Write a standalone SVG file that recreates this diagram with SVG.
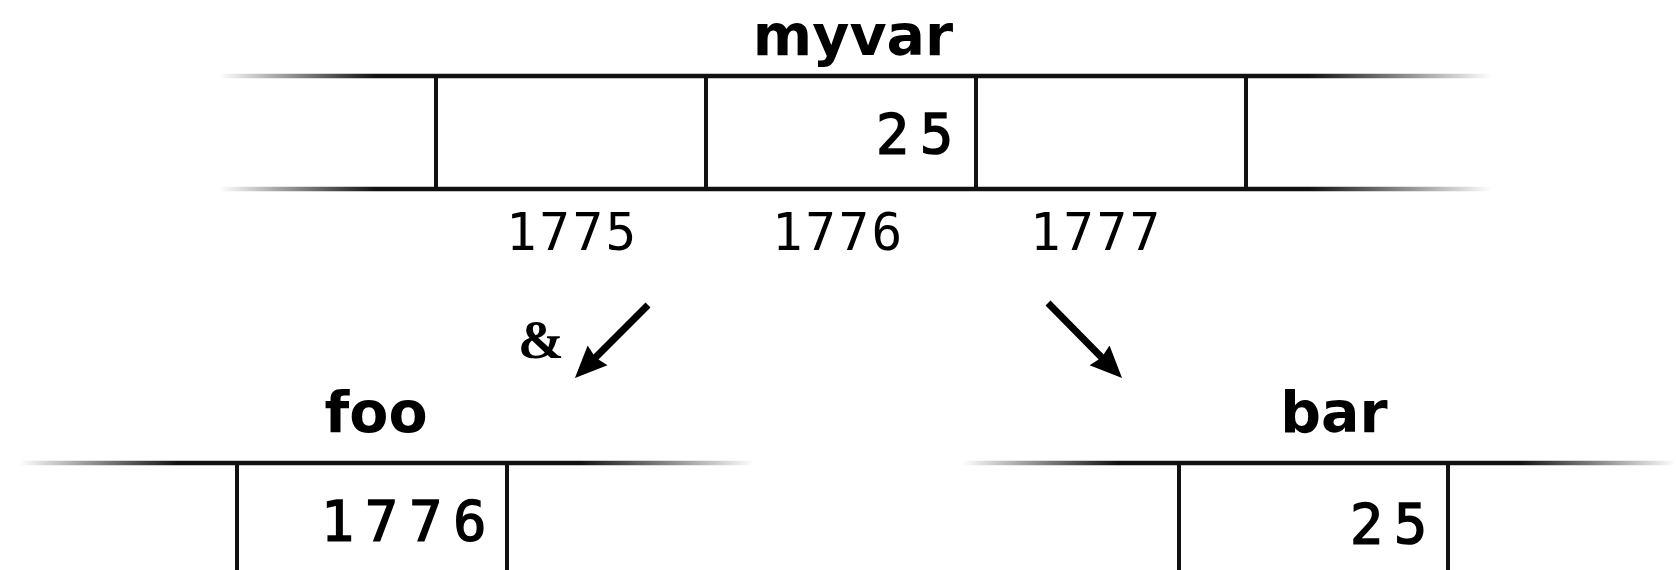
<svg xmlns="http://www.w3.org/2000/svg" width="1676" height="570" viewBox="0 0 1676 570">
<style>
.bg{fill:#fff}
.hl{stroke-width:4.5;fill:none}
.vl{stroke:#111;stroke-width:4;fill:none}
.name{font-family:"DejaVu Sans",sans-serif;font-weight:bold;font-size:57px;fill:#000;text-anchor:middle}
.val{font-family:"DejaVu Sans Mono",monospace;font-size:55px;letter-spacing:11px;fill:#000;stroke:#000;stroke-width:1.6}
.addr{font-family:"DejaVu Sans Mono",monospace;font-size:51px;letter-spacing:2.5px;fill:#000}
.amp{font-family:"Liberation Serif",serif;font-weight:bold;font-size:55px;fill:#000}
.arrow{stroke:#000;stroke-width:7;fill:none;marker-end:url(#head)}
</style>
<defs>
<linearGradient id="gTop" gradientUnits="userSpaceOnUse" x1="219" y1="0" x2="1492" y2="0">
<stop offset="0" stop-color="#111" stop-opacity="0"/>
<stop offset="0.123" stop-color="#111" stop-opacity="1"/>
<stop offset="0.856" stop-color="#111" stop-opacity="1"/>
<stop offset="1" stop-color="#111" stop-opacity="0"/>
</linearGradient>
<linearGradient id="gFoo" gradientUnits="userSpaceOnUse" x1="19" y1="0" x2="754" y2="0">
<stop offset="0" stop-color="#111" stop-opacity="0"/>
<stop offset="0.216" stop-color="#111" stop-opacity="1"/>
<stop offset="0.763" stop-color="#111" stop-opacity="1"/>
<stop offset="1" stop-color="#111" stop-opacity="0"/>
</linearGradient>
<linearGradient id="gBar" gradientUnits="userSpaceOnUse" x1="962" y1="0" x2="1676" y2="0">
<stop offset="0" stop-color="#111" stop-opacity="0"/>
<stop offset="0.218" stop-color="#111" stop-opacity="1"/>
<stop offset="0.78" stop-color="#111" stop-opacity="1"/>
<stop offset="1" stop-color="#111" stop-opacity="0"/>
</linearGradient>
<marker id="head" markerUnits="userSpaceOnUse" markerWidth="40" markerHeight="40" viewBox="0 0 40 40" refX="22" refY="20" orient="auto">
<path d="M0,6 L32,20 L0,34 L3,20 Z" fill="#000"/>
</marker>
</defs>
<rect class="bg" x="0" y="0" width="1676" height="570"/>

<g id="myvar">
<text class="name" x="853" y="55">myvar</text>
<line class="hl" x1="219" y1="76" x2="1492" y2="76" stroke="url(#gTop)"/>
<line class="hl" x1="219" y1="189" x2="1492" y2="189" stroke="url(#gTop)"/>
<line class="vl" x1="436" y1="76" x2="436" y2="189"/>
<line class="vl" x1="706" y1="76" x2="706" y2="189"/>
<line class="vl" x1="976" y1="76" x2="976" y2="189"/>
<line class="vl" x1="1246" y1="76" x2="1246" y2="189"/>
<text class="val" x="876" y="153">25</text>
<text class="addr" x="506" y="250">1775</text>
<text class="addr" x="772" y="250">1776</text>
<text class="addr" x="1030" y="250">1777</text>
</g>

<g id="foo">
<text class="name" x="376" y="432">foo</text>
<line class="hl" x1="19" y1="463" x2="754" y2="463" stroke="url(#gFoo)"/>
<line class="vl" x1="237" y1="463" x2="237" y2="570"/>
<line class="vl" x1="507" y1="463" x2="507" y2="570"/>
<text class="val" x="321" y="540">1776</text>
</g>

<g id="bar">
<text class="name" x="1334" y="432">bar</text>
<line class="hl" x1="962" y1="463" x2="1676" y2="463" stroke="url(#gBar)"/>
<line class="vl" x1="1179" y1="463" x2="1179" y2="570"/>
<line class="vl" x1="1448" y1="463" x2="1448" y2="570"/>
<text class="val" x="1350" y="543">25</text>
</g>

<g id="connectors">
<line class="arrow" x1="648" y1="305" x2="582" y2="371"/>
<text class="amp" x="518" y="358">&amp;</text>
<line class="arrow" x1="1048" y1="303" x2="1115" y2="371"/>
</g>
</svg>
